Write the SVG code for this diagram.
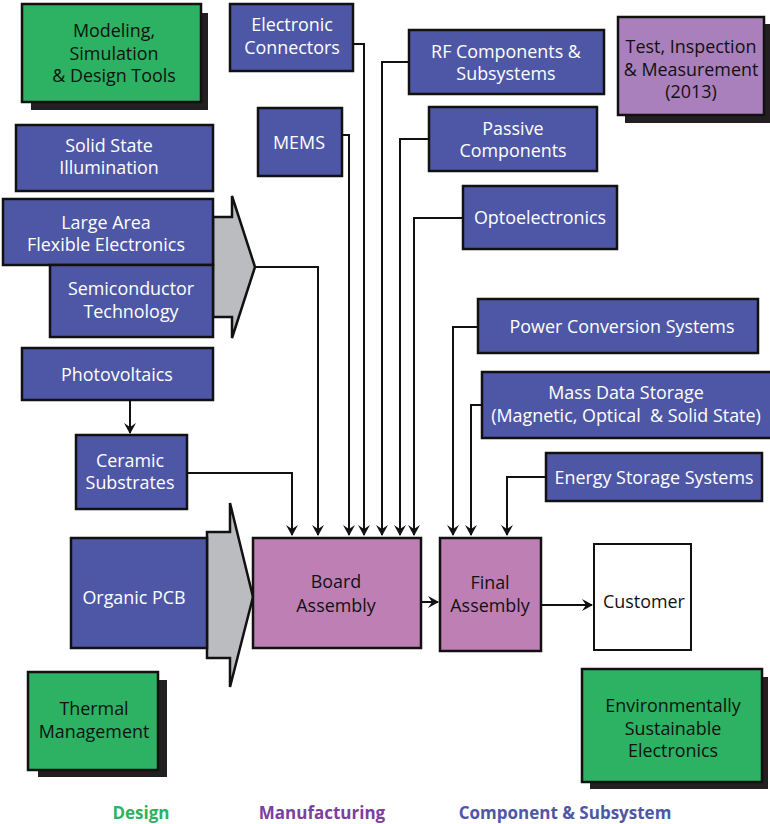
<svg xmlns="http://www.w3.org/2000/svg" width="770" height="824" viewBox="0 0 770 824">
<style>
text{font-family:"Open Sans","Liberation Sans",sans-serif;font-size:17.9px;text-anchor:middle}
.b{fill:#4e57a6;stroke:#111;stroke-width:2.5}
.g{fill:#2cb262;stroke:#111;stroke-width:2.5}
.m{fill:#be80b4;stroke:#111;stroke-width:2.5}
.p{fill:#a980bb;stroke:#111;stroke-width:2.5}
.w{fill:#fff;stroke:#111;stroke-width:2}
.sh{fill:#231f20}
.ga{fill:#bbbcc0;stroke:#111;stroke-width:2.5;stroke-linejoin:miter}
.wt{fill:#fff}
.kt{fill:#111}
.c{fill:none;stroke:#111;stroke-width:2}
.leg{font-weight:bold;font-size:17px}
</style>
<defs>
<marker id="ah" markerUnits="userSpaceOnUse" markerWidth="14" markerHeight="14" refX="0" refY="0" viewBox="-12 -7 14 14" orient="auto">
<path d="M1,0 L-10,-6 L-6,0 L-10,6 Z" fill="#111"/>
</marker>
</defs>

<g id="connectors">
<path class="c" d="M130,400 V433" marker-end="url(#ah)"/>
<path class="c" d="M187,473 H292 V535" marker-end="url(#ah)"/>
<path class="c" d="M255,267 H318 V535" marker-end="url(#ah)"/>
<path class="c" d="M342,135 H349 V535" marker-end="url(#ah)"/>
<path class="c" d="M353,44 H364 V535" marker-end="url(#ah)"/>
<path class="c" d="M409,62 H382 V535" marker-end="url(#ah)"/>
<path class="c" d="M429,139 H400 V535" marker-end="url(#ah)"/>
<path class="c" d="M463,218 H414 V535" marker-end="url(#ah)"/>
<path class="c" d="M478,327 H453 V535" marker-end="url(#ah)"/>
<path class="c" d="M482,405 H471 V535" marker-end="url(#ah)"/>
<path class="c" d="M546,477 H507 V535" marker-end="url(#ah)"/>
<path class="c" d="M421,602 H438" marker-end="url(#ah)"/>
<path class="c" d="M541,605 H592" marker-end="url(#ah)"/>
</g>

<g id="modeling">
<rect class="sh" x="31" y="13" width="177" height="97"/>
<rect class="g" x="22" y="4" width="179" height="98"/>
<text class="kt" x="114" y="37">Modeling,</text>
<text class="kt" x="114" y="60">Simulation</text>
<text class="kt" x="114" y="82">&amp; Design Tools</text>
</g>

<g id="solid-state">
<rect class="b" x="16" y="125" width="197" height="66"/>
<text class="wt" x="109" y="152">Solid State</text>
<text class="wt" x="109" y="174">Illumination</text>
</g>

<g id="electronic-connectors">
<rect class="b" x="230" y="4" width="123" height="67"/>
<text class="wt" x="292" y="31">Electronic</text>
<text class="wt" x="292" y="54">Connectors</text>
</g>

<g id="mems">
<rect class="b" x="258" y="108" width="84" height="68"/>
<text class="wt" x="299" y="149">MEMS</text>
</g>

<g id="rf">
<rect class="b" x="409" y="30" width="195" height="64"/>
<text class="wt" x="506" y="58">RF Components &amp;</text>
<text class="wt" x="506" y="80">Subsystems</text>
</g>

<g id="passive">
<rect class="b" x="429" y="107" width="168" height="64"/>
<text class="wt" x="513" y="135">Passive</text>
<text class="wt" x="513" y="157">Components</text>
</g>

<g id="opto">
<rect class="b" x="463" y="186" width="154" height="63"/>
<text class="wt" x="540" y="224">Optoelectronics</text>
</g>

<g id="test">
<rect class="sh" x="625" y="24" width="145" height="99"/>
<rect class="p" x="618" y="17" width="146" height="98"/>
<text class="kt" x="691" y="53">Test, Inspection</text>
<text class="kt" x="691" y="76">&amp; Measurement</text>
<text class="kt" x="691" y="98">(2013)</text>
</g>

<g id="arrow-top">
<polygon class="ga" points="213,217 232,217 232,196 255,267 232,338 232,317 213,317"/>
</g>

<g id="large-area">
<rect class="b" x="3" y="199" width="210" height="66"/>
<text class="wt" x="106" y="229">Large Area</text>
<text class="wt" x="106" y="251">Flexible Electronics</text>
</g>

<g id="semiconductor">
<rect class="b" x="50" y="265" width="163" height="72"/>
<text class="wt" x="131" y="295">Semiconductor</text>
<text class="wt" x="131" y="318">Technology</text>
</g>

<g id="photovoltaics">
<rect class="b" x="22" y="348" width="191" height="52"/>
<text class="wt" x="117" y="381">Photovoltaics</text>
</g>

<g id="ceramic">
<rect class="b" x="76" y="435" width="111" height="74"/>
<text class="wt" x="130" y="467">Ceramic</text>
<text class="wt" x="130" y="489">Substrates</text>
</g>

<g id="power">
<rect class="b" x="478" y="299" width="280" height="54"/>
<text class="wt" x="622" y="333">Power Conversion Systems</text>
</g>

<g id="mass-data">
<rect class="b" x="482" y="372" width="290" height="66"/>
<text class="wt" x="626" y="399">Mass Data Storage</text>
<text class="wt" x="626" y="422" xml:space="preserve">(Magnetic, Optical  &amp; Solid State)</text>
</g>

<g id="energy">
<rect class="b" x="546" y="453" width="216" height="48"/>
<text class="wt" x="654" y="484">Energy Storage Systems</text>
</g>

<g id="arrow-bottom">
<polygon class="ga" points="207,532 230,532 230,503 253,597 230,687 230,658 207,658"/>
</g>

<g id="organic-pcb">
<rect class="b" x="71" y="538" width="136" height="110"/>
<text class="wt" x="134" y="604">Organic PCB</text>
</g>

<g id="board-assembly">
<rect class="m" x="253" y="538" width="168" height="110"/>
<text class="kt" x="336" y="588">Board</text>
<text class="kt" x="336" y="612">Assembly</text>
</g>

<g id="final-assembly">
<rect class="m" x="440" y="538" width="101" height="113"/>
<text class="kt" x="490" y="589">Final</text>
<text class="kt" x="490" y="612">Assembly</text>
</g>

<g id="customer">
<rect class="w" x="594" y="544" width="97" height="106"/>
<text class="kt" x="644" y="608">Customer</text>
</g>

<g id="thermal">
<rect class="sh" x="38" y="680" width="129" height="97"/>
<rect class="g" x="28" y="672" width="130" height="98"/>
<text class="kt" x="94" y="715">Thermal</text>
<text class="kt" x="94" y="738">Management</text>
</g>

<g id="environmental">
<rect class="sh" x="590" y="677" width="178" height="112"/>
<rect class="g" x="582" y="669" width="180" height="113"/>
<text class="kt" x="673" y="712">Environmentally</text>
<text class="kt" x="673" y="735">Sustainable</text>
<text class="kt" x="673" y="757">Electronics</text>
</g>

<g id="legend">
<text class="leg" x="141" y="819" fill="#2cb262">Design</text>
<text class="leg" x="322" y="819" fill="#7b3f9e">Manufacturing</text>
<text class="leg" x="565" y="819" fill="#4e57a6">Component &amp; Subsystem</text>
</g>
</svg>
